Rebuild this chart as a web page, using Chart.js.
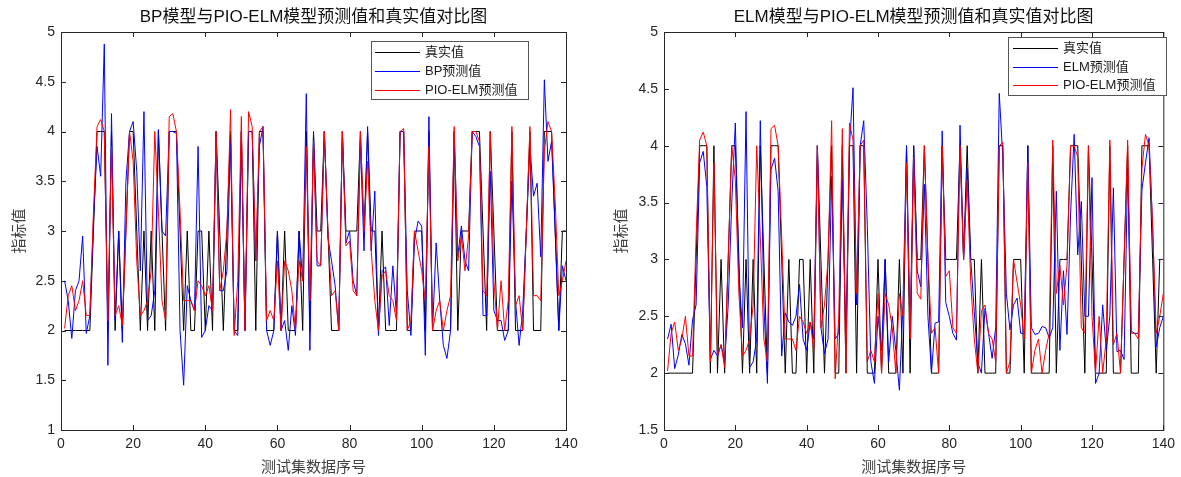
<!DOCTYPE html>
<html>
<head>
<meta charset="utf-8">
<script src="https://cdn.jsdelivr.net/npm/chart.js@4.4.0/dist/chart.umd.min.js"></script>
<style>
    html, body { margin: 0; padding: 0; background: #ffffff; }
    #painel { position: relative; width: 1181px; height: 477px; }
    #graficoBP { position: absolute; left: 0; top: 0; }
    #graficoELM { position: absolute; left: 590px; top: 0; }
</style>
</head>
<body>
<div id="painel">
    <canvas id="graficoBP" width="590" height="477"></canvas>
    <canvas id="graficoELM" width="591" height="477"></canvas>
</div>
<script>
"use strict";

/********************************************************************
 * Dados (amostras 1..140)
 ********************************************************************/
const valorReal = [
    2, 2, 2, 2, 2, 2, 2, 2, 3, 4,
    4, 4, 2, 4, 2, 3, 2, 3, 4, 4,
    3, 2, 3, 2, 3, 2, 4, 3, 2, 4,
    4, 4, 3, 2, 3, 2, 2, 3, 3, 2,
    3, 2, 4, 3, 2, 3, 4, 2, 2, 4,
    2, 4, 4, 2, 4, 4, 2, 2, 2, 3,
    2, 3, 2, 2, 2, 3, 2, 4, 2, 4,
    3, 3, 4, 3, 2, 2, 2, 4, 3, 3,
    3, 3, 4, 3, 4, 3, 3, 2, 3, 2,
    2, 2, 2, 4, 4, 2, 2, 3, 3, 3,
    2, 4, 2, 2, 2, 2, 2, 2, 4, 2,
    3, 3, 3, 4, 4, 4, 3, 2, 4, 3,
    2, 2, 2, 2, 4, 2, 2, 2, 3, 4,
    2, 2, 2, 4, 4, 4, 3, 2, 3, 3
];

const previsaoBP = [
    2.5, 2.3, 1.92, 2.4, 2.5, 2.95, 1.97, 2.15, 3.1, 3.85,
    3.55, 4.88, 1.65, 4.18, 2.1, 3.0, 1.88, 3.5, 4.0, 4.1,
    3.6, 2.6, 4.2, 2.1, 2.15, 2.4, 4.02, 3.0, 2.95, 4.0,
    4.0, 3.98, 2.0, 1.45, 2.45, 2.3, 2.2, 3.85, 1.93, 2.0,
    2.25, 2.2, 4.0, 2.4, 2.4, 2.6, 3.9, 2.0, 1.95, 4.0,
    2.0, 4.0, 4.0, 2.7, 3.85, 4.05, 2.0, 1.85, 2.0, 3.0,
    2.0, 2.1, 1.8, 2.25, 1.95, 3.0, 2.5, 4.38, 1.8, 3.98,
    2.65, 2.65, 4.0, 2.93, 2.7, 2.45, 2.0, 4.0, 2.88, 3.0,
    2.5, 2.35, 3.9, 2.8, 4.05, 2.8, 3.4, 1.95, 2.6, 2.64,
    2.05, 2.65, 2.15, 4.0, 4.0, 2.4, 1.95, 2.9, 3.1, 3.05,
    1.75, 4.15, 2.0, 2.88, 2.3, 1.85, 1.72, 2.0, 4.0, 2.75,
    3.05, 2.7, 2.6, 4.0, 3.95, 3.85, 2.15, 2.15, 3.6, 2.2,
    2.1, 2.1, 1.9, 2.0, 3.5, 2.3, 1.85, 2.2, 3.0, 3.85,
    3.35, 3.48, 2.74, 4.52, 3.7, 3.9, 3.0, 2.0, 2.65, 2.5
];

const previsaoELM = [
    2.3, 2.43, 2.04, 2.16, 2.34, 2.26, 2.07, 2.47, 2.6, 3.85,
    3.95, 3.64, 2.12, 2.2, 2.15, 2.25, 2.1, 2.6, 3.5, 4.2,
    2.85, 2.4, 4.3, 2.05, 2.1, 2.3, 4.22, 2.6, 1.91, 3.79,
    3.89, 3.6, 2.15, 2.53, 2.45, 2.42, 2.5, 2.78, 2.3, 2.2,
    2.45, 2.3, 4.0, 2.4, 2.17, 2.3, 3.73, 2.3, 2.35, 3.7,
    2.3, 4.0, 4.51, 2.6, 4.0, 4.22, 3.3, 2.1, 1.91, 2.5,
    2.2, 3.0, 2.1, 2.5, 2.2, 1.85, 2.6, 4.0, 2.38, 4.0,
    2.9, 2.76, 3.66, 2.5, 2.0, 2.44, 2.45, 4.13, 2.62, 2.5,
    2.35, 2.29, 4.18, 3.0, 3.8, 3.0, 2.54, 2.09, 2.0, 2.57,
    2.35, 2.13, 2.4, 4.46, 3.9, 2.7, 2.38, 2.6, 2.66, 2.35,
    2.35, 4.0, 2.4, 2.34, 2.35, 2.41, 2.4, 2.31, 2.4, 3.6,
    2.2, 2.9, 2.34, 3.4, 4.1, 3.04, 3.51, 2.5, 2.5, 3.72,
    1.91, 2.0, 2.6, 2.2, 2.5, 3.63, 2.19, 2.2, 2.12, 3.8,
    2.37, 2.35, 2.35, 3.61, 3.85, 4.07, 3.3, 2.23, 2.4, 2.5
];

const previsaoPIO = [
    2.02, 2.35, 2.45, 2.2, 2.3, 2.5, 2.15, 2.15, 3.2, 4.05,
    4.12, 4.0, 2.1, 3.85, 2.15, 2.25, 2.05, 3.0, 4.0, 3.7,
    2.7, 2.15, 2.2, 2.3, 2.6, 4.0, 3.2, 2.3, 2.1, 4.15,
    4.18, 4.0, 3.2, 2.3, 2.3, 2.3, 2.2, 2.5, 2.45, 2.35,
    2.45, 2.2, 4.0, 2.4, 2.6, 3.0, 4.22, 1.95, 2.5, 4.15,
    2.0, 4.2, 4.05, 2.7, 4.0, 4.05, 2.1, 2.2, 2.1, 2.7,
    2.0, 2.7, 2.6, 2.4, 2.0, 2.7, 2.5, 3.85, 2.3, 3.9,
    2.7, 2.65, 4.0, 3.0, 2.35, 2.4, 2.0, 4.0, 2.85, 2.9,
    2.4, 2.35, 4.0, 3.0, 3.7, 2.8, 2.3, 2.0, 2.55, 2.6,
    2.35, 2.3, 2.1, 4.0, 4.03, 2.0, 2.1, 3.0, 2.8, 2.6,
    2.3, 3.85, 2.0, 2.2, 2.3, 2.0, 2.2, 2.35, 4.05, 2.7,
    2.95, 2.6, 2.95, 4.0, 4.0, 3.9, 2.4, 2.35, 4.0, 2.5,
    2.0, 2.5, 2.0, 2.3, 4.05, 2.25, 2.35, 2.0, 3.0, 4.05,
    2.35, 2.35, 2.3, 3.8, 4.1, 4.0, 3.3, 2.35, 2.5, 2.7
];

const ticksX = [0, 20, 40, 60, 80, 100, 120, 140];

const COR_REAL = "#000000";
const COR_MODELO = "#0000ff";
const COR_PIO = "#ff0000";

const FONTE = "'Liberation Sans', Arial, 'Noto Sans CJK SC', sans-serif";

Chart.defaults.font.family = FONTE;

/********************************************************************
 * Converte uma série em pontos {x, y}
 ********************************************************************/
function pontos(serie) {

    return serie.map((v, i) => ({ x: i + 1, y: v }));

}

/********************************************************************
 * Plugin: título centrado sobre a área do gráfico
 ********************************************************************/
const tituloCentrado = {

    id: "tituloCentrado",

    afterDraw(chart, args, opts) {

        const { ctx, chartArea: a } = chart;

        ctx.save();
        ctx.font = "17px " + FONTE;
        ctx.fillStyle = "#111111";
        ctx.textAlign = "center";
        ctx.textBaseline = "middle";
        ctx.fillText(opts.texto, (a.left + a.right) / 2, 17);
        ctx.restore();

    }

};

/********************************************************************
 * Plugin: moldura com marcas para dentro (estilo MATLAB)
 ********************************************************************/
const moldura = {

    id: "moldura",

    afterDatasetsDraw(chart) {

        const { ctx, chartArea: a, scales } = chart;

        ctx.save();
        ctx.strokeStyle = "#262626";
        ctx.lineWidth = 1;
        ctx.strokeRect(a.left + 0.5, a.top + 0.5, a.right - a.left, a.bottom - a.top);

        ctx.beginPath();

        scales.x.ticks.forEach(t => {
            const px = Math.round(scales.x.getPixelForValue(t.value)) + 0.5;
            ctx.moveTo(px, a.bottom); ctx.lineTo(px, a.bottom - 5);
            ctx.moveTo(px, a.top); ctx.lineTo(px, a.top + 5);
        });

        scales.y.ticks.forEach(t => {
            const py = Math.round(scales.y.getPixelForValue(t.value)) + 0.5;
            ctx.moveTo(a.left, py); ctx.lineTo(a.left + 5, py);
            ctx.moveTo(a.right, py); ctx.lineTo(a.right - 5, py);
        });

        ctx.stroke();
        ctx.restore();

    }

};

/********************************************************************
 * Plugin: legenda dentro da área do gráfico
 ********************************************************************/
const legendaInterna = {

    id: "legendaInterna",

    afterDraw(chart, args, opts) {

        const { ctx } = chart;
        const b = opts.caixa;
        const cores = [COR_REAL, COR_MODELO, COR_PIO];

        ctx.save();
        ctx.fillStyle = "#ffffff";
        ctx.fillRect(b.x, b.y, b.w, b.h);
        ctx.strokeStyle = "#555555";
        ctx.lineWidth = 1;
        ctx.strokeRect(b.x + 0.5, b.y + 0.5, b.w, b.h);

        ctx.font = "13px " + FONTE;
        ctx.textBaseline = "middle";

        chart.data.datasets.forEach((ds, i) => {
            const y = Math.round(b.y + b.primeira + i * b.passo);
            ctx.fillStyle = cores[i];
            ctx.fillRect(b.x + b.linhaIni, y, b.linhaFim - b.linhaIni, 1);
            ctx.fillStyle = "#1a1a1a";
            ctx.fillText(ds.label, b.x + b.texto, y + 0.5);
        });

        ctx.restore();

    }

};

/********************************************************************
 * Cria um gráfico de comparação
 ********************************************************************/
function criarGrafico(idCanvas, cfg) {

    const canvas = document.getElementById(idCanvas);

    return new Chart(canvas, {

        type: "line",

        data: {

            datasets: [

                {
                    label: "真实值",
                    data: pontos(valorReal),
                    borderColor: COR_REAL,
                    borderWidth: 1,
                    pointRadius: 0,
                    tension: 0,
                    order: 3
                },

                {
                    label: cfg.nomeModelo,
                    data: pontos(cfg.serieModelo),
                    borderColor: COR_MODELO,
                    borderWidth: 1,
                    pointRadius: 0,
                    tension: 0,
                    order: 2
                },

                {
                    label: "PIO-ELM预测值",
                    data: pontos(previsaoPIO),
                    borderColor: COR_PIO,
                    borderWidth: 1,
                    pointRadius: 0,
                    tension: 0,
                    order: 1
                }

            ]

        },

        options: {

            responsive: false,

            animation: false,

            layout: {
                padding: { left: 0, right: cfg.margemDireita, top: 32, bottom: 0 }
            },

            plugins: {

                legend: { display: false },

                tooltip: { enabled: false },

                title: { display: false },

                tituloCentrado: { texto: cfg.titulo },

                legendaInterna: { caixa: cfg.legenda }

            },

            scales: {

                x: {
                    type: "linear",
                    min: 0,
                    max: 140,
                    afterBuildTicks: s => { s.ticks = ticksX.map(v => ({ value: v })); },
                    ticks: {
                        color: "#262626",
                        font: { size: 14 },
                        padding: 6,
                        maxRotation: 0,
                        autoSkip: false
                    },
                    grid: { display: false, drawTicks: false },
                    border: { display: false },
                    title: {
                        display: true,
                        text: "测试集数据序号",
                        color: "#404040",
                        font: { size: 15 },
                        padding: { top: 0, bottom: 0 }
                    },
                    afterFit: s => { s.height = 47; }
                },

                y: {
                    min: cfg.yMin,
                    max: 5,
                    ticks: {
                        stepSize: 0.5,
                        color: "#262626",
                        font: { size: 14 },
                        padding: 6,
                        callback: v => String(v)
                    },
                    grid: { display: false, drawTicks: false },
                    border: { display: false },
                    title: {
                        display: true,
                        text: "指标值",
                        color: "#404040",
                        font: { size: 15 },
                        padding: { top: cfg.margemTituloY, bottom: 0 }
                    },
                    afterFit: s => { s.width = cfg.larguraY; }
                }

            }

        },

        plugins: [moldura, legendaInterna, tituloCentrado]

    });

}

/********************************************************************
 * Inicialização
 ********************************************************************/
criarGrafico("graficoBP", {
    titulo: "BP模型与PIO-ELM模型预测值和真实值对比图",
    nomeModelo: "BP预测值",
    serieModelo: previsaoBP,
    yMin: 1,
    larguraY: 61,
    margemDireita: 24,
    margemTituloY: 11,
    legenda: { x: 371, y: 41, w: 157, h: 58, primeira: 11, passo: 19, linhaIni: 4, linhaFim: 49, texto: 54 }
});

criarGrafico("graficoELM", {
    titulo: "ELM模型与PIO-ELM模型预测值和真实值对比图",
    nomeModelo: "ELM预测值",
    serieModelo: previsaoELM,
    yMin: 1.5,
    larguraY: 74,
    margemDireita: 14,
    margemTituloY: 23,
    legenda: { x: 418, y: 37, w: 158, h: 58, primeira: 11, passo: 18.5, linhaIni: 5, linhaFim: 50, texto: 55 }
});
</script>
</body>
</html>
